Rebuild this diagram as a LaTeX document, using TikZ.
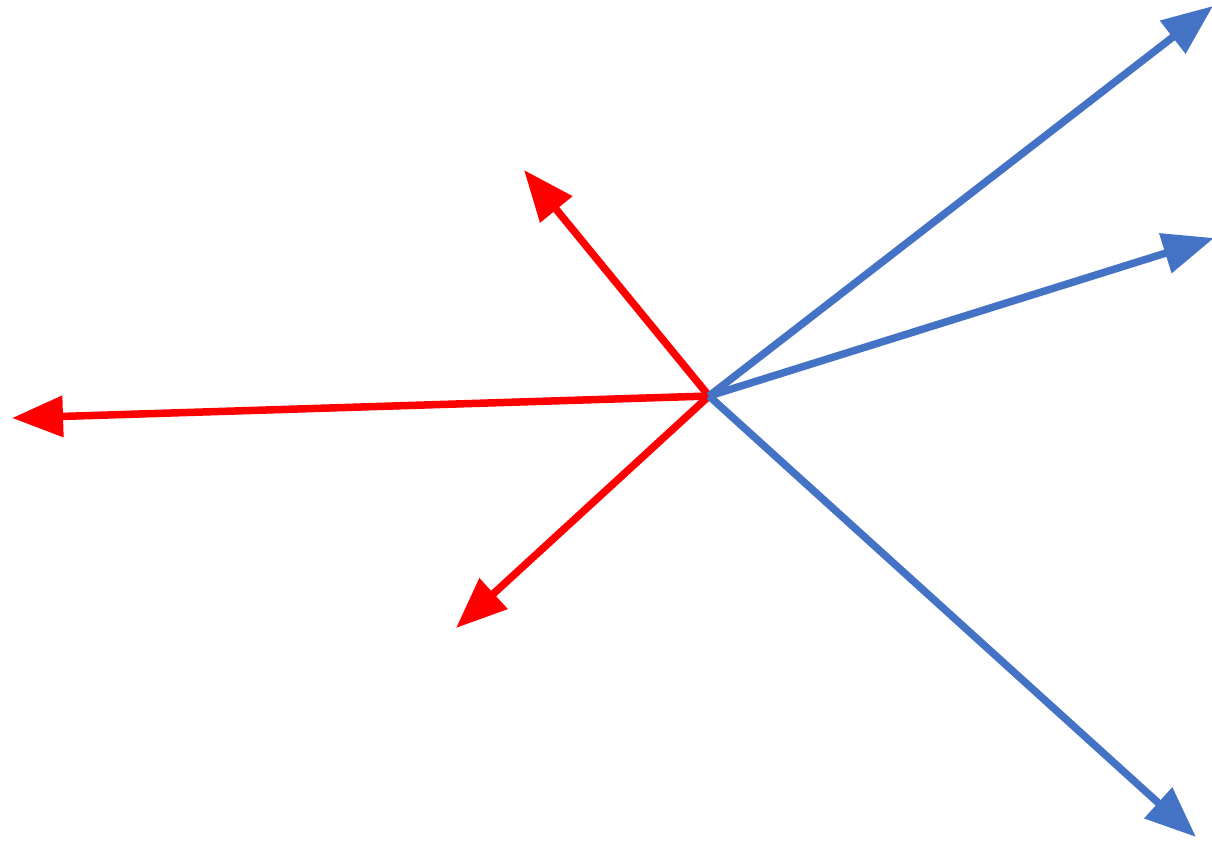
\documentclass[tikz,border=0pt]{standalone}
\usepackage{xcolor}
\usepackage{tikz}
\usetikzlibrary{arrows.meta}
\definecolor{vred}{RGB}{255,0,0}
\definecolor{vblue}{RGB}{68,114,196}
\tikzset{
  vec/.style ={line width=0.75mm, -{Triangle[length=5.1mm, width=4mm]}},
  rvec/.style={vec, draw=vred, color=vred},
  bvec/.style={vec, draw=vblue, color=vblue},
}
\begin{document}
\begin{tikzpicture}[x=0.01cm, y=-0.01cm]
  \useasboundingbox (0,0) rectangle (1212,841);
  \coordinate (o)  at (709,396);
  \coordinate (r1) at (12,418);
  \coordinate (r2) at (524,170);
  \coordinate (r3) at (456,628);
  \coordinate (b1) at (1213,6);
  \coordinate (b2) at (1214,238);
  \coordinate (b3) at (1196,837);
  \draw[rvec] (o)--(r1);
  \draw[rvec] (o)--(r2);
  \draw[rvec] (o)--(r3);
  \draw[bvec] (o)--(b1);
  \draw[bvec] (o)--(b2);
  \draw[bvec] (o)--(b3);
\end{tikzpicture}
\end{document}
